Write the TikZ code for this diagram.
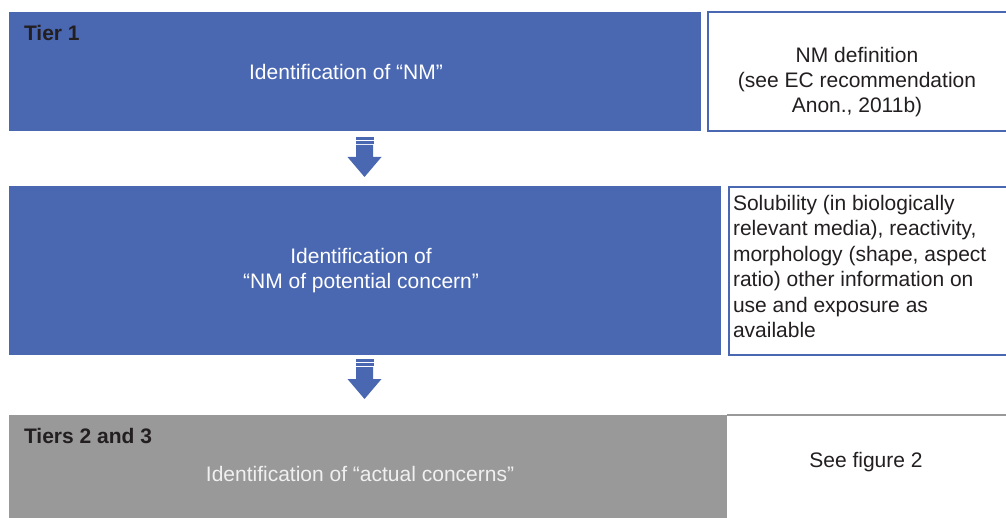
\documentclass[tikz,border=0pt]{standalone}
\usepackage{fontspec}
\setmainfont{Liberation Sans}
\definecolor{tierblue}{HTML}{4A67B1}
\definecolor{tiergray}{HTML}{999999}
\definecolor{ink}{HTML}{231F20}
\begin{document}
\begin{tikzpicture}[x=1pt,y=-1pt,
  every node/.style={inner sep=0pt,outer sep=0pt,font=\fontsize{21}{25}\selectfont},
  tierbox/.style={anchor=north west,draw=none},
  sidebox/.style={draw=tierblue,line width=1.5pt,fill=white},
  tierlabel/.style={anchor=west,text=ink,font=\fontsize{21}{25}\selectfont\bfseries},
  bodytext/.style={text=white,align=center},
  sidetext/.style={text=ink,align=center},
  blockarrow/.style={fill=tierblue,draw=none}]
\useasboundingbox (0,0) rectangle (1006,518);
% Tier boxes
\node[tierbox,fill=tierblue,minimum width=692pt,minimum height=119pt] (b1) at (9,12) {};
\node[tierbox,fill=tierblue,minimum width=712pt,minimum height=169pt] (b2) at (9,186) {};
\node[tierbox,fill=tiergray,minimum width=718pt,minimum height=110pt] (b3) at (9,415) {};
% side boxes
\draw[sidebox] (708,12) rectangle (1010,131);
\node[anchor=north west,minimum width=298pt,minimum height=119pt] (s1) at (708,12) {};
\draw[sidebox] (729,187) rectangle (1010,355);
\node[anchor=north west,minimum width=277pt,minimum height=168pt] (s2) at (729,187) {};
\draw[tiergray,line width=1.5pt] (727,415) -- (1010,415);
\node[anchor=north west,minimum width=279pt,minimum height=103pt] (s3) at (727,415) {};
% labels
\node[tierlabel] (t1) at (24,33) {Tier 1};
\node[bodytext] (l1) at (346,72) {Identification of “NM”};
\node[bodytext] (l2) at (361,271) {Identification of\\“NM of potential concern”};
\node[tierlabel] (t3) at (24,436) {Tiers 2 and 3};
\node[text=white!94!black] (l3) at (360,474) {Identification of “actual concerns”};
\node[sidetext] (r1) at (857,82) {NM definition\\(see EC recommendation\\Anon., 2011b)};
\node[anchor=north west,text=ink,align=left,font=\fontsize{21}{25.5}\selectfont] (r2) at (733,195) {Solubility (in biologically\\relevant media), reactivity,\\morphology (shape, aspect\\ratio) other information on\\use and exposure as\\available};
\node[text=ink] (r3) at (866,462) {See figure 2};
% block arrows
\coordinate (a1) at (364.5,137);
\coordinate (a2) at (364.5,359);
\foreach \a in {a1,a2}{
  \fill[blockarrow] ([xshift=-9pt]\a) rectangle ([xshift=9pt,yshift=-2.6pt]\a);
  \fill[blockarrow] ([xshift=-9pt,yshift=-4pt]\a) rectangle ([xshift=9pt,yshift=-6.6pt]\a);
  \fill[blockarrow] ([xshift=-8.5pt,yshift=-8pt]\a) -- ([xshift=8.5pt,yshift=-8pt]\a)
     -- ([xshift=8.5pt,yshift=-20pt]\a) -- ([xshift=17pt,yshift=-20pt]\a)
     -- ([yshift=-40pt]\a) -- ([xshift=-17pt,yshift=-20pt]\a)
     -- ([xshift=-8.5pt,yshift=-20pt]\a) -- cycle;
}
\end{tikzpicture}
\end{document}
